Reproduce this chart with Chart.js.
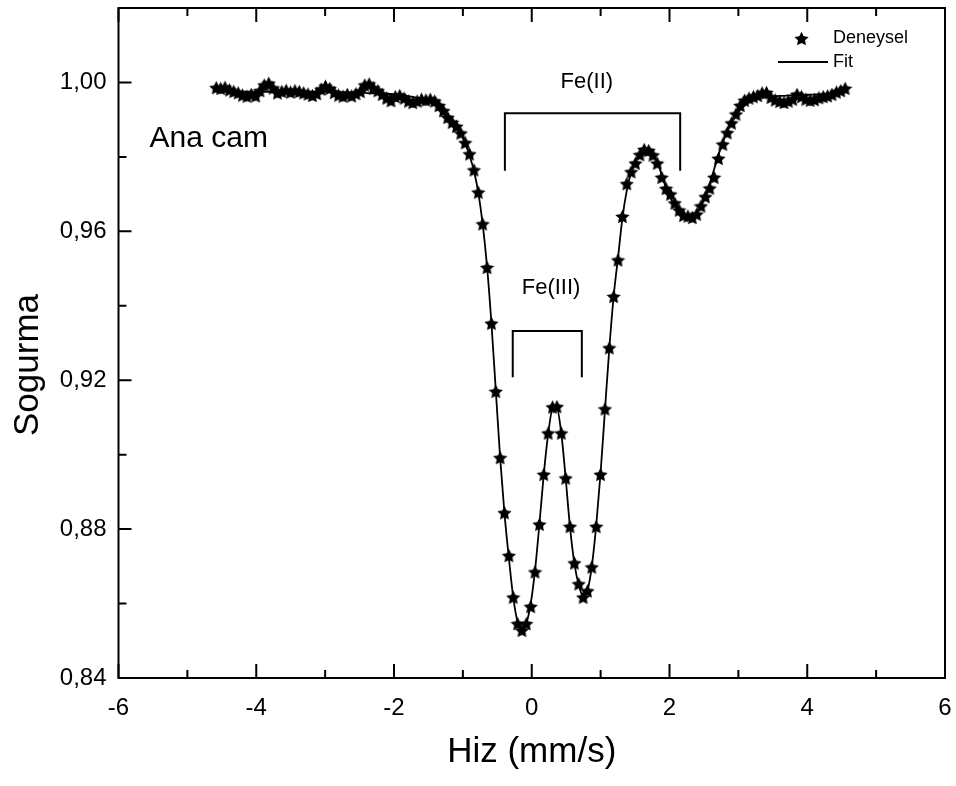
<!DOCTYPE html>
<html>
<head>
<meta charset="utf-8">
<script src="https://cdn.jsdelivr.net/npm/chart.js@4.4.1/dist/chart.umd.min.js"></script>
<style>
  html, body { margin: 0; padding: 0; background: #fff; }
  #wrap { width: 956px; height: 786px; position: relative; }
</style>
</head>
<body>
<div id="wrap"><canvas id="grafik"></canvas></div>
<script>
// Mossbauer spektrumu - Ana cam

// hiz (mm/s)
const hiz = [
  -4.580, -4.517, -4.453, -4.390, -4.326, -4.263, -4.200, -4.136, -4.073, -4.009,
  -3.946, -3.883, -3.819, -3.756, -3.692, -3.629, -3.566, -3.502, -3.439, -3.375,
  -3.312, -3.249, -3.185, -3.122, -3.058, -2.995, -2.932, -2.868, -2.805, -2.741,
  -2.678, -2.615, -2.551, -2.488, -2.424, -2.361, -2.298, -2.234, -2.171, -2.107,
  -2.044, -1.981, -1.917, -1.854, -1.790, -1.727, -1.664, -1.600, -1.537, -1.473,
  -1.410, -1.347, -1.283, -1.220, -1.156, -1.093, -1.030, -0.966, -0.903, -0.839,
  -0.776, -0.713, -0.649, -0.586, -0.522, -0.459, -0.396, -0.332, -0.269, -0.205,
  -0.142, -0.079, -0.015, 0.048, 0.112, 0.175, 0.238, 0.302, 0.365, 0.429,
  0.492, 0.555, 0.619, 0.682, 0.746, 0.809, 0.872, 0.936, 0.999, 1.063,
  1.126, 1.189, 1.253, 1.316, 1.380, 1.443, 1.506, 1.570, 1.633, 1.697,
  1.760, 1.823, 1.887, 1.950, 2.014, 2.077, 2.140, 2.204, 2.267, 2.331,
  2.394, 2.457, 2.521, 2.584, 2.648, 2.711, 2.774, 2.838, 2.901, 2.965,
  3.028, 3.091, 3.155, 3.218, 3.282, 3.345, 3.408, 3.472, 3.535, 3.599,
  3.662, 3.725, 3.789, 3.852, 3.916, 3.979, 4.042, 4.106, 4.169, 4.233,
  4.296, 4.359, 4.423, 4.486, 4.550
];

// deneysel sogurma degerleri
const deneysel = [
  0.9986, 0.9984, 0.9987, 0.9980, 0.9976, 0.9972, 0.9966, 0.9963, 0.9968, 0.9964,
  0.9978, 0.9993, 0.9998, 0.9985, 0.9972, 0.9976, 0.9979, 0.9974, 0.9978, 0.9976,
  0.9972, 0.9969, 0.9965, 0.9970, 0.9982, 0.9990, 0.9984, 0.9973, 0.9966, 0.9963,
  0.9968, 0.9964, 0.9970, 0.9976, 0.9993, 0.9996, 0.9985, 0.9978, 0.9968, 0.9958,
  0.9951, 0.9962, 0.9965, 0.9958, 0.9950, 0.9946, 0.9950, 0.9955, 0.9953, 0.9955,
  0.9950, 0.9938, 0.9924, 0.9906, 0.9893, 0.9882, 0.9864, 0.9838, 0.9808, 0.9765,
  0.9705, 0.9620, 0.9503, 0.9353, 0.9170, 0.8992, 0.8844, 0.8729, 0.8617, 0.8546,
  0.8528, 0.8546, 0.8592, 0.8685, 0.8813, 0.8947, 0.9058, 0.9128, 0.9129, 0.9058,
  0.8937, 0.8807, 0.8709, 0.8653, 0.8617, 0.8634, 0.8698, 0.8807, 0.8947, 0.9123,
  0.9287, 0.9425, 0.9523, 0.9640, 0.9728, 0.9760, 0.9783, 0.9806, 0.9820, 0.9817,
  0.9805, 0.9783, 0.9745, 0.9715, 0.9700, 0.9676, 0.9657, 0.9643, 0.9641, 0.9637,
  0.9646, 0.9668, 0.9693, 0.9716, 0.9745, 0.9796, 0.9834, 0.9865, 0.9891, 0.9915,
  0.9938, 0.9952, 0.9958, 0.9962, 0.9965, 0.9972, 0.9973, 0.9960, 0.9953, 0.9949,
  0.9946, 0.9950, 0.9955, 0.9968, 0.9962, 0.9955, 0.9952, 0.9954, 0.9959, 0.9962,
  0.9964, 0.9968, 0.9974, 0.9978, 0.9984
];

// fit egrisi (ayni hiz noktalarinda)
const fitDegerleri = [
  0.9975, 0.9975, 0.9975, 0.9975, 0.9975, 0.9975, 0.9975, 0.9975, 0.9975, 0.9975,
  0.9975, 0.9975, 0.9975, 0.9975, 0.9975, 0.9975, 0.9975, 0.9975, 0.9975, 0.9975,
  0.9975, 0.9975, 0.9975, 0.9975, 0.9975, 0.9975, 0.9975, 0.9974, 0.9974, 0.9974,
  0.9974, 0.9973, 0.9973, 0.9972, 0.9972, 0.9971, 0.9971, 0.9970, 0.9970, 0.9969,
  0.9969, 0.9968, 0.9967, 0.9965, 0.9963, 0.9961, 0.9958, 0.9955, 0.9951, 0.9947,
  0.9942, 0.9935, 0.9926, 0.9914, 0.9900, 0.9883, 0.9862, 0.9836, 0.9803, 0.9762,
  0.9704, 0.9620, 0.9505, 0.9355, 0.9172, 0.8992, 0.8842, 0.8722, 0.8617, 0.8550,
  0.8530, 0.8547, 0.8600, 0.8690, 0.8815, 0.8948, 0.9055, 0.9122, 0.9124, 0.9057,
  0.8938, 0.8806, 0.8708, 0.8650, 0.8620, 0.8635, 0.8700, 0.8810, 0.8950, 0.9120,
  0.9285, 0.9425, 0.9530, 0.9635, 0.9710, 0.9758, 0.9788, 0.9808, 0.9818, 0.9817,
  0.9806, 0.9785, 0.9752, 0.9717, 0.9690, 0.9668, 0.9652, 0.9643, 0.9639, 0.9641,
  0.9650, 0.9668, 0.9694, 0.9728, 0.9767, 0.9805, 0.9839, 0.9869, 0.9893, 0.9912,
  0.9927, 0.9938, 0.9946, 0.9952, 0.9956, 0.9959, 0.9961, 0.9962, 0.9963, 0.9964,
  0.9964, 0.9965, 0.9965, 0.9966, 0.9966, 0.9967, 0.9967, 0.9968, 0.9968, 0.9969,
  0.9969, 0.9970, 0.9970, 0.9971, 0.9971
];

// eksen etiketleri
const xEtiketleri = [-6, -4, -2, 0, 2, 4, 6];
const yEtiketleri = ['0,84', '0,88', '0,92', '0,96', '1,00'];

const FONT = "'Liberation Sans', Arial, sans-serif";

// dolu bes koseli yildiz isareti
function yildizYap(boyut) {
  const c = document.createElement('canvas');
  c.width = boyut;
  c.height = boyut;
  const g = c.getContext('2d');
  const R = boyut / 2, r = R * 0.5;
  g.beginPath();
  for (let i = 0; i < 10; i++) {
    const rad = i % 2 === 0 ? R : r;
    const a = -Math.PI / 2 + i * Math.PI / 5;
    const px = R + rad * Math.cos(a), py = R + rad * Math.sin(a) + 0.7;
    if (i === 0) g.moveTo(px, py); else g.lineTo(px, py);
  }
  g.closePath();
  g.fillStyle = '#000';
  g.fill();
  return c;
}
const yildiz = yildizYap(15);

function yEtiket(v) {
  const s = v.toFixed(2).replace('.', ',');
  return yEtiketleri.includes(s) ? s : '';
}

// cerceve, ice dogru tikler, notlar ve lejant
const ekler = {
  id: 'ekler',
  afterDraw(chart) {
    const ctx = chart.ctx;
    const a = chart.chartArea;
    const xs = chart.scales.x, ys = chart.scales.y;
    ctx.save();
    ctx.strokeStyle = '#000';
    ctx.fillStyle = '#000';

    // cerceve
    ctx.lineWidth = 2;
    ctx.strokeRect(a.left, a.top, a.right - a.left, a.bottom - a.top);

    // x tikleri (alt ve ust)
    ctx.beginPath();
    xs.ticks.forEach(t => {
      const px = xs.getPixelForValue(t.value);
      const uz = xEtiketleri.includes(t.value) ? 14 : 8;
      ctx.moveTo(px, a.bottom); ctx.lineTo(px, a.bottom - uz);
      ctx.moveTo(px, a.top); ctx.lineTo(px, a.top + uz);
    });
    // y tikleri (sol)
    ys.ticks.forEach(t => {
      const py = ys.getPixelForValue(t.value);
      const uz = yEtiket(t.value) ? 13 : 8;
      ctx.moveTo(a.left, py); ctx.lineTo(a.left + uz, py);
    });
    ctx.stroke();

    // y ekseni basligi
    ctx.save();
    ctx.translate(38, 365);
    ctx.rotate(-Math.PI / 2);
    ctx.font = '35px ' + FONT;
    ctx.textAlign = 'center';
    ctx.textBaseline = 'alphabetic';
    ctx.fillText('Sogurma', 0, 0);
    ctx.restore();

    // numune adi
    ctx.font = '30px ' + FONT;
    ctx.textAlign = 'left';
    ctx.textBaseline = 'middle';
    ctx.fillText('Ana cam', xs.getPixelForValue(-5.55), ys.getPixelForValue(0.9849));

    // Fe(II) ve Fe(III) dubletleri
    ctx.font = '22px ' + FONT;
    ctx.textAlign = 'center';
    ctx.fillText('Fe(II)', xs.getPixelForValue(0.80), ys.getPixelForValue(1.0002));
    ctx.fillText('Fe(III)', xs.getPixelForValue(0.28), ys.getPixelForValue(0.9447));

    ctx.lineWidth = 2;
    const parantez = (x1, x2, yUst, yAlt) => {
      ctx.beginPath();
      ctx.moveTo(xs.getPixelForValue(x1), ys.getPixelForValue(yAlt));
      ctx.lineTo(xs.getPixelForValue(x1), ys.getPixelForValue(yUst));
      ctx.lineTo(xs.getPixelForValue(x2), ys.getPixelForValue(yUst));
      ctx.lineTo(xs.getPixelForValue(x2), ys.getPixelForValue(yAlt));
      ctx.stroke();
    };
    parantez(-0.39, 2.155, 0.9917, 0.9763);
    parantez(-0.276, 0.727, 0.9332, 0.9208);

    // lejant
    ctx.drawImage(yildiz, 794, 31);
    ctx.lineWidth = 2;
    ctx.beginPath();
    ctx.moveTo(778, 62); ctx.lineTo(828, 62);
    ctx.stroke();
    ctx.font = '18px ' + FONT;
    ctx.textAlign = 'left';
    ctx.textBaseline = 'middle';
    ctx.fillText('Deneysel', 833, 38);
    ctx.fillText('Fit', 833, 62);

    ctx.restore();
  }
};

new Chart(document.getElementById('grafik'), {
  type: 'scatter',
  data: {
    datasets: [
      {
        label: 'Deneysel',
        data: hiz.map((v, i) => ({ x: v, y: deneysel[i] })),
        pointStyle: yildiz,
        pointRadius: 7,
        showLine: false
      },
      {
        label: 'Fit',
        data: hiz.map((v, i) => ({ x: v, y: fitDegerleri[i] })),
        showLine: true,
        borderColor: '#000',
        borderWidth: 1.8,
        pointRadius: 0,
        cubicInterpolationMode: 'monotone'
      }
    ]
  },
  options: {
    responsive: true,
    maintainAspectRatio: false,
    animation: false,
    layout: { padding: { top: 7, right: 11, left: 0, bottom: 0 } },
    plugins: {
      legend: { display: false },
      tooltip: { enabled: false }
    },
    scales: {
      x: {
        type: 'linear',
        min: -6,
        max: 6,
        afterFit: s => {
          s.height = 108;
          s.paddingLeft = 0;
          s.paddingRight = 0;
        },
        grid: { display: false, drawTicks: false },
        border: { display: false },
        ticks: {
          stepSize: 1,
          autoSkip: false,
          maxRotation: 0,
          padding: 16,
          color: '#000',
          font: { family: FONT, size: 24 },
          callback: v => xEtiketleri.includes(v) ? String(v) : ''
        },
        title: {
          display: true,
          text: 'Hiz (mm/s)',
          color: '#000',
          font: { family: FONT, size: 35 },
          padding: { top: 0, bottom: 13 }
        }
      },
      y: {
        type: 'linear',
        min: 0.84,
        max: 1.02,
        afterFit: s => {
          s.width = 118.5;
          s.paddingTop = 0;
          s.paddingBottom = 0;
        },
        grid: { display: false, drawTicks: false },
        border: { display: false },
        ticks: {
          stepSize: 0.02,
          autoSkip: false,
          padding: 12,
          color: '#000',
          font: { family: FONT, size: 24 },
          callback: v => yEtiket(v)
        }
      }
    }
  },
  plugins: [ekler]
});
</script>
</body>
</html>
